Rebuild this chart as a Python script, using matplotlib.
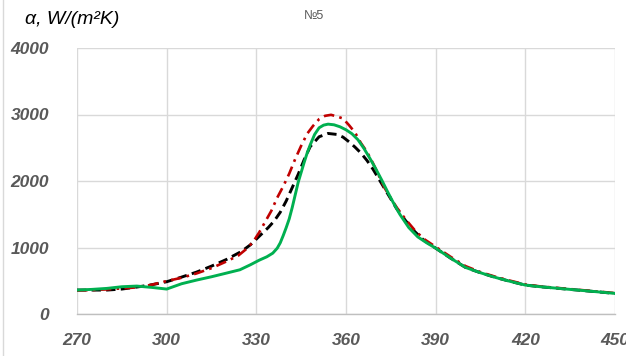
import matplotlib
matplotlib.use("Agg")
import matplotlib.pyplot as plt
from matplotlib.lines import Line2D

# Green solid curve
x_green = [270, 275, 280, 285, 290, 295, 300, 305, 310, 315, 320, 324.5, 328, 331, 333.5,
           335.5, 337, 338, 339, 340, 341, 342, 343, 344, 345, 346, 347, 348, 349.5, 351,
           352.5, 354, 356, 358, 360, 362, 364, 366, 368,
           370, 372, 374, 376, 378, 381, 384, 387, 390, 395, 400, 405, 410, 415, 420,
           425, 430, 435, 440, 445, 450]
y_green = [360, 370, 385, 410, 420, 400, 375, 455, 510, 560, 615, 665, 740, 810, 860,
           915, 990, 1070, 1180, 1300, 1430, 1600, 1790, 1980, 2130, 2280, 2420, 2540, 2700, 2800,
           2840, 2855, 2845, 2815, 2770, 2710, 2620, 2490, 2340,
           2180, 2010, 1830, 1660, 1500, 1300, 1160, 1070, 990, 840, 700, 620, 550, 490, 435,
           410, 390, 370, 350, 330, 310]

# Black dashed curve
x_black = [270, 275, 280, 285, 290, 295, 300, 305, 310, 315, 320, 325, 328, 331, 334,
           336, 338, 340, 342, 344, 346, 348, 351, 354, 357, 359, 361, 363, 365, 367,
           369, 371, 373, 375, 377, 380, 383, 386, 390, 395, 400, 405, 410, 415, 420,
           425, 430, 435, 440, 445, 450]
y_black = [360, 360, 360, 375, 405, 440, 485, 555, 630, 720, 820, 940, 1040, 1170, 1300,
           1400, 1530, 1700, 1900, 2100, 2320, 2515, 2665, 2715, 2700, 2660, 2590, 2510, 2420, 2310,
           2180, 2030, 1880, 1730, 1580, 1400, 1240, 1110, 990, 840, 700, 620, 550, 490, 435,
           410, 390, 370, 350, 330, 310]

# Red dash-dot curve
x_red = [270, 275, 280, 285, 290, 295, 300, 305, 310, 315, 320, 324, 327, 329, 331,
         333, 335, 337, 339, 341, 343, 345, 347, 349, 351, 353, 355, 357, 359, 361,
         363, 365, 367, 369, 371, 373, 375, 377, 380, 383, 386, 390, 395, 400, 405,
         410, 415, 420, 425, 430, 435, 440, 445, 450]
y_red = [355, 360, 370, 385, 400, 440, 495, 545, 610, 690, 790, 880, 990, 1090, 1230,
         1390, 1550, 1750, 1920, 2110, 2330, 2530, 2710, 2830, 2930, 2980, 2995, 2970, 2940, 2840,
         2730, 2570, 2440, 2270, 2080, 1890, 1740, 1600, 1420, 1260, 1130, 1010, 860, 720, 630,
         560, 500, 445, 415, 395, 375, 355, 335, 315]

x_ticks = [270, 300, 330, 360, 390, 420, 450]
y_ticks = [0, 1000, 2000, 3000, 4000]

fig = plt.figure(figsize=(6.26, 3.56), dpi=100)
ax = fig.add_axes([77/626, 1 - 314/356, (615-77)/626, (314-48)/356])

ax.plot(x_black, y_black, color="#000000", lw=2.1, linestyle=(0, (3.2, 1.8)), zorder=3)
ax.plot(x_red, y_red, color="#C00000", lw=1.9, linestyle=(0, (4, 2, 1, 2)), zorder=4)
ax.plot(x_green, y_green, color="#00B050", lw=2.1, zorder=5)

ax.set_xlim(270, 450)
ax.set_ylim(0, 4000)
ax.set_xticks(x_ticks)
ax.set_yticks(y_ticks)
ax.grid(True, color="#D9D9D9", lw=1.0)
ax.set_axisbelow(True)
for s in ["top", "right", "left"]:
    ax.spines[s].set_visible(False)
ax.spines["bottom"].set_color("#BFBFBF")
ax.spines["bottom"].set_linewidth(1.0)
ax.tick_params(length=0, colors="#595959")
ax.tick_params(axis="x", pad=14)
ax.tick_params(axis="y", pad=20)
for lab in ax.get_xticklabels() + ax.get_yticklabels():
    lab.set_fontfamily("Liberation Sans")
    lab.set_fontweight("bold")
    lab.set_fontstyle("italic")
    lab.set_fontsize(12.5)
    lab.set_color("#595959")
    lab.set_clip_on(False)

fig.text(25/626, 1 - 20/356, "α, W/(m²K)", fontsize=14, fontstyle="italic",
         family="Liberation Sans", color="#000000", va="center", ha="left")
fig.text(314/626, 1 - 16/356, "№5", fontsize=9, family="Liberation Sans",
         color="#595959", va="center", ha="center")
fig.add_artist(Line2D([3/626, 3/626], [0, 1], color="#D9D9D9", lw=1, transform=fig.transFigure))

fig.savefig("out.png", dpi=100)
